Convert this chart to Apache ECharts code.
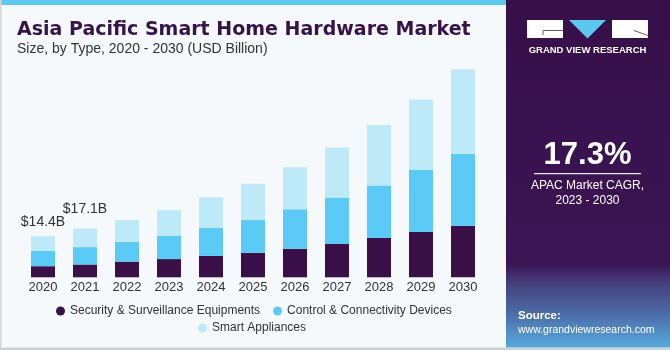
<!DOCTYPE html>
<html>
<head>
<meta charset="utf-8">
<script src="https://cdn.jsdelivr.net/npm/echarts@6/dist/echarts.min.js"></script>
<style>
  html, body { margin: 0; padding: 0; background: #f5f9fc; }
  #chart { width: 670px; height: 350px; }
</style>
</head>
<body>
<div id="chart"></div>
<script>
// ---- Data ----
var years = ['2020', '2021', '2022', '2023', '2024', '2025', '2026', '2027', '2028', '2029', '2030'];
var security = [3.9, 4.5, 5.5, 6.4, 7.5, 8.6, 10.0, 11.7, 13.8, 15.9, 18.1];
var control = [5.4, 6.1, 7.0, 8.1, 9.8, 11.5, 13.9, 16.3, 18.4, 21.8, 25.3];
var appliances = [5.1, 6.5, 7.6, 9.1, 10.8, 12.7, 14.7, 17.6, 21.3, 24.7, 29.6];
var totalLabels = ['$14.4B', '$17.1B', '', '', '', '', '', '', '', '', ''];
var labelDistances = [7, 12, 0, 0, 0, 0, 0, 0, 0, 0, 0];
var seriesNames = ['Security & Surveillance Equipments', 'Control & Connectivity Devices', 'Smart Appliances'];
var seriesColors = ['#3a1049', '#5ccaf6', '#bee9f9'];

var topData = appliances.map(function (v, i) {
  if (!totalLabels[i]) return v;
  return {
    value: v,
    label: { show: true, position: 'top', distance: labelDistances[i], formatter: totalLabels[i] }
  };
});

var chart = echarts.init(document.getElementById('chart'), null, { renderer: 'canvas' });

var baseFont = 'Liberation Sans, Arial, sans-serif';

var option = {
  backgroundColor: '#f5f9fc',
  animation: false,
  textStyle: { fontFamily: baseFont },
  title: {
    left: 17,
    top: 21,
    padding: 0,
    itemGap: 2,
    text: 'Asia Pacific Smart Home Hardware Market',
    textStyle: { fontFamily: 'DejaVu Sans, sans-serif', fontWeight: 'bold', fontSize: 19, color: '#38134a', lineHeight: 19 },
    subtext: 'Size, by Type, 2020 - 2030 (USD Billion)',
    subtextStyle: { fontFamily: baseFont, fontSize: 14, color: '#333333', lineHeight: 14 }
  },
  legend: [
    {
      data: [seriesNames[0], seriesNames[1]],
      left: 56,
      top: 305,
      padding: 0,
      icon: 'circle',
      itemWidth: 9,
      itemHeight: 9,
      itemGap: 13,
      textStyle: { fontSize: 12, color: '#333333', fontFamily: baseFont }
    },
    {
      data: [seriesNames[2]],
      left: 198,
      top: 322,
      padding: 0,
      icon: 'circle',
      itemWidth: 9,
      itemHeight: 9,
      textStyle: { fontSize: 12, color: '#333333', fontFamily: baseFont }
    }
  ],
  grid: { left: 22, width: 462, top: 49.4, bottom: 72.7, containLabel: false },
  xAxis: {
    type: 'category',
    data: years,
    axisLine: { show: false },
    axisTick: { show: false },
    axisLabel: { fontSize: 13, color: '#333333', margin: 4, fontFamily: baseFont }
  },
  yAxis: {
    type: 'value',
    min: 0,
    max: 80,
    show: false,
    splitLine: { show: false }
  },
  series: [
    {
      name: seriesNames[0], type: 'bar', stack: 'total', barWidth: 24,
      itemStyle: { color: seriesColors[0] }, data: security
    },
    {
      name: seriesNames[1], type: 'bar', stack: 'total', barWidth: 24,
      itemStyle: { color: seriesColors[1] }, data: control
    },
    {
      name: seriesNames[2], type: 'bar', stack: 'total', barWidth: 24,
      itemStyle: { color: seriesColors[2] },
      label: { show: false, color: '#333333', fontSize: 14, fontFamily: baseFont },
      data: topData
    }
  ],
  graphic: [
    // top accent band
    { type: 'rect', shape: { x: 0, y: 0, width: 506, height: 5 }, style: { fill: '#5bc8ef' }, silent: true },
    // outer frame lines
    { type: 'rect', shape: { x: 0, y: 0, width: 1.5, height: 350 }, style: { fill: '#d4d6d8' }, silent: true },
    { type: 'rect', shape: { x: 0, y: 347.5, width: 670, height: 2.5 }, style: { fill: '#cfd1d3' }, silent: true },
    // right panel
    {
      type: 'rect', shape: { x: 506, y: 0, width: 164, height: 347.5 }, silent: true,
      style: {
        fill: new echarts.graphic.LinearGradient(0, 0, 0, 1, [
          { offset: 0, color: '#37104a' },
          { offset: 0.76, color: '#3a1553' },
          { offset: 0.815, color: '#463f7c' },
          { offset: 0.9, color: '#4b6aa6' },
          { offset: 1, color: '#58a9de' }
        ])
      }
    },
    // logo blocks
    { type: 'rect', shape: { x: 527, y: 20, width: 36, height: 18 }, style: { fill: '#ffffff' }, silent: true },
    { type: 'polyline', shape: { points: [[563, 30.5], [543, 30.5], [543, 35]] }, style: { stroke: '#6a5878', lineWidth: 1, fill: null }, silent: true },
    { type: 'polygon', shape: { points: [[569, 20], [606, 20], [587.5, 38.5]] }, style: { fill: '#5bc8f0' }, silent: true },
    { type: 'rect', shape: { x: 612, y: 20, width: 36, height: 18 }, style: { fill: '#ffffff' }, silent: true },
    { type: 'polyline', shape: { points: [[634, 30.5], [648, 35.5]] }, style: { stroke: '#6a5878', lineWidth: 1, fill: null }, silent: true },
    {
      type: 'text', x: 587.5, y: 50.5, silent: true,
      style: { text: 'GRAND VIEW RESEARCH', fill: '#ffffff', font: 'bold 9.5px Liberation Sans, Arial, sans-serif', textAlign: 'center', textVerticalAlign: 'middle' }
    },
    {
      type: 'text', x: 587.5, y: 155, silent: true,
      style: { text: '17.3%', fill: '#ffffff', font: 'bold 31px Liberation Sans, Arial, sans-serif', textAlign: 'center', textVerticalAlign: 'middle' }
    },
    { type: 'rect', shape: { x: 534, y: 173, width: 107, height: 1.2 }, style: { fill: '#e8e2ee' }, silent: true },
    {
      type: 'text', x: 587.5, y: 185.5, silent: true,
      style: { text: 'APAC Market CAGR,', fill: '#ffffff', font: '12px Liberation Sans, Arial, sans-serif', textAlign: 'center', textVerticalAlign: 'middle' }
    },
    {
      type: 'text', x: 587.5, y: 201, silent: true,
      style: { text: '2023 - 2030', fill: '#ffffff', font: '12px Liberation Sans, Arial, sans-serif', textAlign: 'center', textVerticalAlign: 'middle' }
    },
    {
      type: 'text', x: 518, y: 316, silent: true,
      style: { text: 'Source:', fill: '#ffffff', font: 'bold 11.5px Liberation Sans, Arial, sans-serif', textAlign: 'left', textVerticalAlign: 'middle' }
    },
    {
      type: 'text', x: 518, y: 330, silent: true,
      style: { text: 'www.grandviewresearch.com', fill: '#ffffff', font: '10.5px Liberation Sans, Arial, sans-serif', textAlign: 'left', textVerticalAlign: 'middle' }
    }
  ]
};

chart.setOption(option);
</script>
</body>
</html>
